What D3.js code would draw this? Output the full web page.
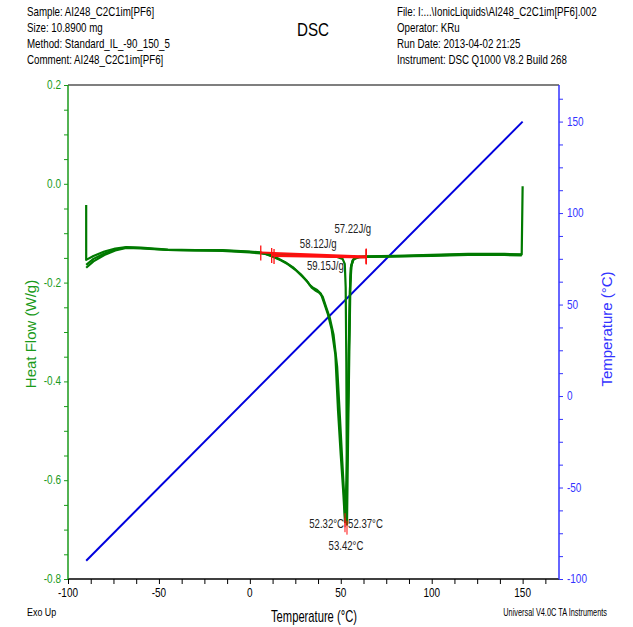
<html lang="en">
<head>
<meta charset="UTF-8">
<title>DSC</title>
<style>
  body { margin: 0; background: #fff; }
  text { font-family: "Liberation Sans", Arial, sans-serif; }
</style>
</head>
<body>
<div id="chart"></div>
<script src="https://d3js.org/d3.v7.min.js"></script>
<script>
// header texts
const headerLeft = ["Sample: AI248_C2C1im[PF6]", "Size:  10.8900 mg", "Method: Standard_IL_-90_150_5", "Comment: AI248_C2C1im[PF6]"];
const headerRight = ["File: I:...\\IonicLiquids\\AI248_C2C1im[PF6].002", "Operator: KRu", "Run Date: 2013-04-02 21:25", "Instrument: DSC Q1000 V8.2 Build 268"];

// axes
const tempTicks = [-100, -50, 0, 50, 100, 150];
const hfTicks = [-0.8, -0.6, -0.4, -0.2, 0.0, 0.2];
const rightTicks = [-100, -50, 0, 50, 100, 150];

// program temperature (ramp)
const rampT = [-90, 150];
const rampTemp = [-90, 150];

// heat flow cycles [T, W/g]
const cycle1 = [[-90,-0.043],[-90,-0.154],[-86,-0.146],[-80,-0.137],[-74,-0.131],[-68,-0.128],[-60,-0.129],[-45,-0.133],[-30,-0.134],[-15,-0.134],[0,-0.137],[6,-0.139],[12,-0.146],[16,-0.152],[20,-0.16],[24,-0.17],[28,-0.183],[31,-0.195],[33,-0.205],[35,-0.211],[37,-0.215],[39,-0.222],[41,-0.243],[43,-0.265],[45,-0.295],[47,-0.345],[48.5,-0.46],[50,-0.55],[51.3,-0.62],[52.32,-0.685],[53.2,-0.6],[53.8,-0.48],[54.4,-0.34],[55,-0.22],[55.5,-0.17],[56.5,-0.155],[58,-0.149],[64,-0.147],[80,-0.146],[100,-0.144],[120,-0.142],[140,-0.142],[149.5,-0.143],[150,-0.005]];
const cycle2 = [[-90,-0.164],[-86,-0.152],[-80,-0.141],[-74,-0.133],[-68,-0.129],[-60,-0.13],[-45,-0.134],[-30,-0.135],[-15,-0.135],[0,-0.138],[8,-0.141],[13,-0.148],[17,-0.155],[21,-0.163],[25,-0.174],[29,-0.188],[32,-0.2],[34,-0.21],[36,-0.216],[38,-0.22],[40,-0.228],[42,-0.25],[44,-0.272],[46,-0.305],[48,-0.37],[49.5,-0.47],[50.8,-0.56],[51.7,-0.62],[52.37,-0.675],[53.3,-0.6],[53.9,-0.47],[54.5,-0.33],[55.1,-0.21],[55.7,-0.167],[56.8,-0.154],[58.5,-0.149],[64,-0.148],[80,-0.147],[100,-0.145],[120,-0.143],[140,-0.143],[149.5,-0.144]];
const cycle3 = [[-90,-0.17],[-86,-0.157],[-80,-0.144],[-74,-0.135],[-68,-0.13],[-60,-0.131],[-45,-0.134],[-30,-0.135],[-15,-0.136],[0,-0.139],[10,-0.142],[20,-0.144],[30,-0.145],[40,-0.146],[48,-0.148],[51,-0.152],[52.2,-0.162],[52.7,-0.21],[53.05,-0.36],[53.42,-0.69],[54,-0.52],[54.7,-0.34],[55.3,-0.2],[55.9,-0.165],[57,-0.153],[60,-0.148],[80,-0.147],[100,-0.146],[120,-0.144],[140,-0.144],[149.5,-0.145]];

// integration baselines
const intStart = [6, 12, 13.3];
const intStartHF = [-0.139, -0.144, -0.146];
const intEnd = [64, 64, 64];
const intEndHF = [-0.147, -0.148, -0.149];

// annotations
const enthalpyText = ["57.22J/g", "58.12J/g", "59.15J/g"];
const enthalpyT = [56.6, 37.6, 41.5];
const enthalpyHF = [-0.091, -0.122, -0.166];
const peakText = ["52.32°C", "52.37°C", "53.42°C"];
const peakT = [52.32, 52.37, 53.42];
const peakHF = [-0.685, -0.675, -0.69];

const W = 633, H = 627;
const m = {left: 68, right: 74, top: 85, bottom: 48};
const green = "#1a9a1a", curveGreen = "#007a00", blue = "#3333ff";
const NARROW = 0.8;

const svg = d3.select("#chart").append("svg").attr("width", W).attr("height", H);

// squeeze texts horizontally to mimic the narrow font of the original
function squeeze(sel, k) {
  sel.each(function () {
    const t = d3.select(this);
    const xx = +t.attr("x"), yy = +t.attr("y");
    t.attr("x", 0).attr("y", 0).attr("transform", `translate(${xx},${yy}) scale(${k},1)`);
  });
}

const x = d3.scaleLinear().domain([-100, 170]).range([m.left, W - m.right]);
const y = d3.scaleLinear().domain([-0.8, 0.2]).range([H - m.bottom, m.top]);
const yR = d3.scaleLinear().domain([-100, 170]).range([H - m.bottom, m.top]);

const x0 = m.left, x1 = W - m.right, yb = H - m.bottom;

// header
svg.append("g").selectAll("text").data(headerLeft).join("text")
  .attr("x", 27).attr("y", (d, i) => 16 + i * 16).attr("font-size", 12.5).text(d => d)
  .call(squeeze, 0.78);
svg.append("g").selectAll("text").data(headerRight).join("text")
  .attr("x", 397).attr("y", (d, i) => 16 + i * 16).attr("font-size", 12.5).text(d => d)
  .call(squeeze, 0.78);
svg.append("text").attr("x", 313).attr("y", 36).attr("text-anchor", "middle")
  .attr("font-size", 19).text("DSC").call(squeeze, 0.8);

// frame top line
svg.append("line").attr("x1", x0).attr("x2", x1).attr("y1", m.top).attr("y2", m.top)
  .attr("stroke", "#000").attr("stroke-width", 1.2);

// bottom axis
const xMinor = d3.range(-100, 171, 12.5);
const gx = svg.append("g").attr("transform", `translate(0,${yb})`);
gx.call(d3.axisBottom(x).tickValues(xMinor).tickSize(5).tickFormat(""))
  .call(g => g.select(".domain").remove());
gx.selectAll("line").attr("stroke", "#000");
gx.append("line").attr("x1", x0).attr("x2", x1).attr("stroke", "#000").attr("stroke-width", 1.5);
gx.selectAll("text.lab").data(tempTicks).join("text").attr("class", "lab")
  .attr("x", d => x(d)).attr("y", 18).attr("text-anchor", "middle")
  .attr("font-size", 12.5).attr("fill", "#000").text(d => d).call(squeeze, NARROW);

// left axis
const gy = svg.append("g").attr("transform", `translate(${x0},0)`);
gy.call(d3.axisLeft(y).tickValues(d3.range(-0.8, 0.2001, 0.05)).tickSize(4).tickFormat(""))
  .call(g => g.select(".domain").remove());
gy.selectAll("line").attr("stroke", green);
gy.append("line").attr("y1", m.top).attr("y2", yb).attr("stroke", green).attr("stroke-width", 1.5);
gy.selectAll("text.lab").data(hfTicks).join("text").attr("class", "lab")
  .attr("x", -7).attr("y", d => y(d) + 4).attr("text-anchor", "end")
  .attr("font-size", 12.5).attr("fill", green).text(d => d.toFixed(1)).call(squeeze, NARROW);

// right axis
const gr = svg.append("g").attr("transform", `translate(${x1},0)`);
gr.call(d3.axisRight(yR).tickValues(d3.range(-100, 171, 12.5)).tickSize(4).tickFormat(""))
  .call(g => g.select(".domain").remove());
gr.selectAll("line").attr("stroke", blue);
gr.append("line").attr("y1", m.top).attr("y2", yb).attr("stroke", blue).attr("stroke-width", 1.5);
gr.selectAll("text.lab").data(rightTicks).join("text").attr("class", "lab")
  .attr("x", 8).attr("y", d => yR(d) + 4).attr("text-anchor", "start")
  .attr("font-size", 12.5).attr("fill", blue).text(d => d).call(squeeze, NARROW);

// axis titles
svg.append("text").attr("transform", `translate(36,${(m.top + yb) / 2 + 2}) rotate(-90)`)
  .attr("text-anchor", "middle")
  .attr("font-size", 15).attr("fill", green).text("Heat Flow (W/g)");
svg.append("text").attr("transform", `translate(612,${(m.top + yb) / 2 - 3}) rotate(-90)`)
  .attr("text-anchor", "middle")
  .attr("font-size", 15).attr("fill", blue).text("Temperature (°C)");
svg.append("text").attr("x", 314).attr("y", 622).attr("text-anchor", "middle")
  .attr("font-size", 16).text("Temperature (°C)").call(squeeze, 0.7);
svg.append("text").attr("x", 27).attr("y", 616).attr("font-size", 10.5).text("Exo Up")
  .call(squeeze, 0.85);
svg.append("text").attr("x", 607).attr("y", 616).attr("text-anchor", "end")
  .attr("font-size", 10.5).text("Universal V4.0C TA Instruments").call(squeeze, 0.7);

// ramp line
const ramp = rampT.map((t, i) => [t, rampTemp[i]]);
svg.append("path").datum(ramp)
  .attr("d", d3.line().x(d => x(d[0])).y(d => yR(d[1])))
  .attr("fill", "none").attr("stroke", "#0000dd").attr("stroke-width", 2);

// heat flow curves
const hfLine = d3.line().x(d => x(d[0])).y(d => y(d[1]));
[cycle1, cycle2, cycle3].forEach(c => {
  svg.append("path").datum(c)
    .attr("d", hfLine)
    .attr("fill", "none").attr("stroke", curveGreen).attr("stroke-width", 2.2)
    .attr("stroke-linejoin", "round");
});

// integration baselines
intStart.forEach((s, i) => {
  svg.append("line").attr("x1", x(s)).attr("y1", y(intStartHF[i]))
    .attr("x2", x(intEnd[i])).attr("y2", y(intEndHF[i]))
    .attr("stroke", "#ff1010").attr("stroke-width", 2);
  svg.append("line").attr("x1", x(s)).attr("x2", x(s))
    .attr("y1", y(intStartHF[i]) - 7).attr("y2", y(intStartHF[i]) + 8)
    .attr("stroke", "#ff1010").attr("stroke-width", 1.3);
  svg.append("line").attr("x1", x(intEnd[i])).attr("x2", x(intEnd[i]))
    .attr("y1", y(intEndHF[i]) - 8).attr("y2", y(intEndHF[i]) + 7)
    .attr("stroke", "#ff1010").attr("stroke-width", 1.3);
});

// enthalpy labels
enthalpyText.forEach((t, i) => {
  svg.append("text").attr("x", x(enthalpyT[i])).attr("y", y(enthalpyHF[i]) + 4)
    .attr("text-anchor", "middle").attr("font-size", 12).attr("fill", "#222").text(t)
    .call(squeeze, 0.8);
});

// peak markers & labels
peakT.forEach((t, i) => {
  svg.append("line").attr("x1", x(t)).attr("x2", x(t))
    .attr("y1", y(peakHF[i]) - 4).attr("y2", y(peakHF[i]) + 10)
    .attr("stroke", "#ff1010").attr("stroke-width", 1);
});
svg.append("text").attr("x", x(peakT[0]) - 1).attr("y", y(peakHF[0]) + 6)
  .attr("text-anchor", "end").attr("font-size", 12).attr("fill", "#222").text(peakText[0])
  .call(squeeze, 0.8);
svg.append("text").attr("x", x(peakT[1]) + 3).attr("y", y(peakHF[0]) + 6)
  .attr("text-anchor", "start").attr("font-size", 12).attr("fill", "#222").text(peakText[1])
  .call(squeeze, 0.8);
svg.append("text").attr("x", x(peakT[2]) - 1).attr("y", y(peakHF[2]) + 25)
  .attr("text-anchor", "middle").attr("font-size", 12).attr("fill", "#222").text(peakText[2])
  .call(squeeze, 0.8);
</script>
</body>
</html>
